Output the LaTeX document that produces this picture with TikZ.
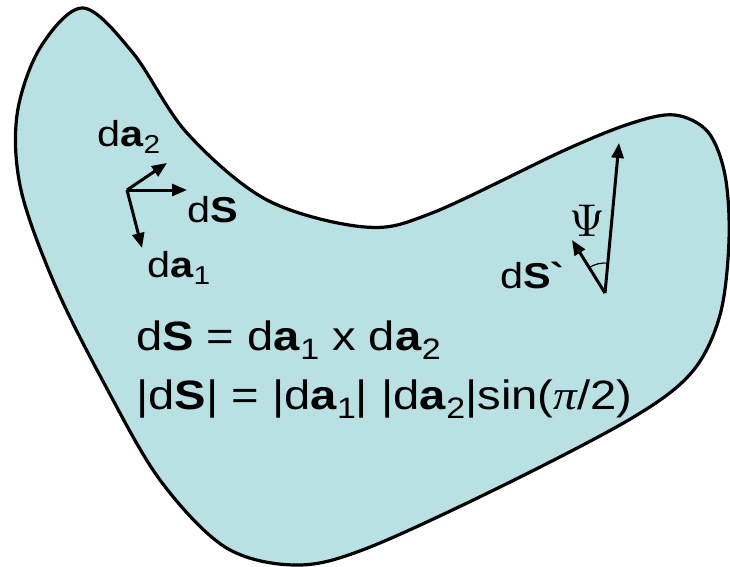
\documentclass[tikz,border=0pt]{standalone}
\usepackage{fontspec}
\setmainfont{Liberation Sans}[FakeStretch=1.15]
\newfontfamily\gr{Liberation Serif}[FakeStretch=1.15]
\usetikzlibrary{arrows.meta,angles}
\definecolor{sheet}{RGB}{185,224,227}
\newcommand\lo[1]{\raisebox{-0.22em}{\scalebox{0.72}{#1}}}

\begin{document}
\begin{tikzpicture}[x=1pt,y=-1pt,
  rim/.style={draw=black,line width=3.2pt,fill=sheet},
  vec/.style={-{Triangle[length=15pt,width=12pt]},line width=3pt},
  lbl/.style={anchor=base west,inner sep=0pt,font=\fontsize{36}{42}\selectfont},
  eq/.style={anchor=base west,inner sep=0pt,font=\fontsize{41}{48}\selectfont}]
\useasboundingbox (0,0) rectangle (730,566);
% surface
\draw[rim] plot[smooth cycle,tension=0.55] coordinates {
  (83,8) (133,53) (187,133) (267,200) (365,227) (432,213) (565,150)
  (632,123) (675,115) (708,132) (725,175) (729,240) (720,315) (692,372)
  (632,418) (500,487) (365,549) (295,565) (225,547) (160,480) (105,385)
  (55,285) (21,190) (17,115) (40,48)};
% element vectors
\coordinate (o1) at (127,190);
\coordinate (a2) at (167,163);
\coordinate (s1) at (187,190);
\coordinate (a1) at (142,248);
\foreach \t in {a2,s1,a1}
  \draw[vec] (o1) -- (\t);
\node[lbl] (la2) at (97,146) {d\textbf{a}\lo{2}};
\node[lbl] (ls1) at (187,222) {d\textbf{S}};
\node[lbl] (la1) at (147,277) {d\textbf{a}\lo{1}};
% tilted normal
\coordinate (o2) at (605,293);
\coordinate (n2) at (619,143);
\coordinate (s2) at (572,240);
\draw[vec] (o2) -- (n2);
\draw[vec] (o2) -- (s2);
\pic[draw,line width=1.2pt,angle radius=30pt] {angle=n2--o2--s2};
\node[inner sep=0pt] (psi) at (587,221) {\scalebox{4.6}{$\Psi$}};
\node[lbl] (ls2) at (500,288) {d\textbf{S\textasciigrave}};
% relations
\node[eq] (eq1) at (136,350) {d\textbf{S} = d\textbf{a}\lo{1} x d\textbf{a}\lo{2}};
\node[eq] (eq2) at (136,409) {|d\textbf{S}| = |d\textbf{a}\lo{1}| |d\textbf{a}\lo{2}|sin({\gr\itshape π}/2)};
\end{tikzpicture}
\end{document}
